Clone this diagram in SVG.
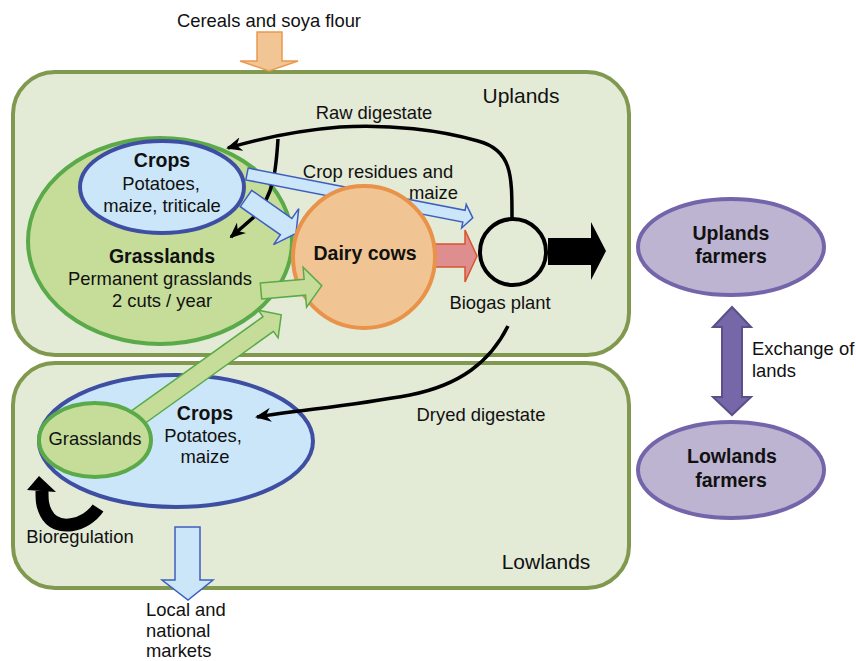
<svg xmlns="http://www.w3.org/2000/svg" width="856" height="661" viewBox="0 0 856 661">
<style>
text{font-family:"Liberation Sans",Arial,sans-serif;font-size:18.4px;fill:#111}
.b{font-weight:bold;font-size:19.5px}
.r{font-size:21px}
.m{text-anchor:middle}
.box{fill:#e3ead6;stroke:#80994f;stroke-width:4}
.gr{fill:#c6dd9a;stroke:#5aaa4a;stroke-width:4}
.cr{fill:#cbe6f8;stroke:#3e4fa3;stroke-width:4}
.pu{fill:#bdb4d2;stroke:#7465aa;stroke-width:4}
.ln{fill:none;stroke:#000;stroke-width:3.5}
.ab{fill:#cbe6f8;stroke:#3e5fbf;stroke-width:1.5}
.ag{fill:#c6dd9a;stroke:#5aaa4a;stroke-width:1.5}
</style>
<defs>
<marker id="ah" markerUnits="userSpaceOnUse" viewBox="0 0 16 14" refX="14" refY="7" markerWidth="16" markerHeight="14" orient="auto">
<path d="M0,0 L16,7 L0,14 L5,7 z" fill="#000"/>
</marker>
</defs>

<g id="uplands"><rect class="box" x="13" y="72" width="616" height="283" rx="42"/><text class="m r" x="521" y="103">Uplands</text></g>
<g id="lowlands"><rect class="box" x="13" y="363" width="616" height="225" rx="42"/><text class="m r" x="546" y="569">Lowlands</text></g>

<g id="cereals">
<text class="m" x="269" y="27">Cereals and soya flour</text>
<polygon points="257,32 282,32 282,61 298,61 269,71 240,61 257,61" fill="#f2c594" stroke="#e9994f" stroke-width="1.5"/>
</g>

<g id="grasslands-up"><ellipse class="gr" cx="160" cy="241" rx="132" ry="103"/>
<text class="m b" x="162" y="263">Grasslands</text>
<text class="m" x="160" y="285">Permanent grasslands</text>
<text class="m" x="162" y="307">2 cuts / year</text></g>

<g id="crops-up"><ellipse class="cr" cx="162" cy="187" rx="82" ry="46"/>
<text class="m b" x="162" y="167">Crops</text>
<text class="m" x="161" y="190">Potatoes,</text>
<text class="m" x="162" y="212">maize, triticale</text></g>

<g id="crops-low"><ellipse class="cr" cx="176" cy="441" rx="137" ry="66"/>
<text class="m b" x="205" y="420">Crops</text>
<text class="m" x="203" y="442">Potatoes,</text>
<text class="m" x="205" y="463">maize</text></g>

<g id="connectors">
<path class="ln" d="M512 218 C512 175 512 150 478 141 C440 130 390 124 340 127 C290 131 255 140 228 148" marker-end="url(#ah)"/>
<path class="ln" d="M278 139 C276 170 274 195 255 216 L231 237" marker-end="url(#ah)"/>
<path class="ln" d="M508 326 C490 362 460 385 410 395 C350 406 300 410 257 417" marker-end="url(#ah)"/>
<polygon class="ab" transform="translate(247,174) rotate(11)" points="0,-6 221,-6 221,-12 230,0 221,12 221,6 0,6"/>
<polygon class="ab" transform="translate(246,198.5) rotate(35)" points="0,-10 49,-10 49,-22 61,0 49,22 49,10 0,10"/>
<polygon points="428,244 465,244 465,230 477,256 465,282 465,267 428,267" fill="#de8e8f" stroke="#d9542e" stroke-width="1.5"/>
</g>

<g id="dairy-cows"><circle cx="364" cy="257" r="71" fill="#f0c593" stroke="#e8924a" stroke-width="4"/>
<text class="m b" x="365" y="260">Dairy cows</text></g>

<g id="labels">
<text class="m" x="374" y="119">Raw digestate</text>
<text class="m" x="378" y="178">Crop residues and</text>
<text x="458" y="199" text-anchor="end">maize</text>
<text class="m" x="481" y="421">Dryed digestate</text>
</g>

<g id="biogas-plant"><circle cx="513" cy="252" r="33" fill="none" stroke="#000" stroke-width="4"/>
<text class="m" x="500" y="309">Biogas plant</text>
<polygon points="548,238 591,238 591,222 606,251 591,280 591,265 548,265" fill="#000"/></g>

<g id="connectors-green">
<polygon class="ag" transform="translate(261,291) rotate(-5)" points="0,-8 44,-8 44,-20 61,0 44,20 44,8 0,8"/>
<polygon class="ag" transform="translate(130,423) rotate(-35.6)" points="0,-9 170,-9 170,-17 186,0 170,17 170,9 0,9"/>
</g>

<g id="grasslands-low"><ellipse class="gr" cx="95" cy="440" rx="56" ry="37"/>
<text class="m" x="95" y="445">Grasslands</text></g>

<g id="bioregulation">
<path d="M98 508 C86 526 56 533 46 513 C42 505 42 500 42 491" fill="none" stroke="#000" stroke-width="13"/>
<polygon points="27,490 56,492 39,476" fill="#000"/>
<text class="m" x="80" y="543">Bioregulation</text>
</g>

<g id="markets">
<polygon points="175,527 200,527 200,580 213,580 188,600 162,580 175,580" fill="#cbe6f8" stroke="#3e5fbf" stroke-width="1.5"/>
<text x="146" y="616">Local and</text>
<text x="146" y="637">national</text>
<text x="146" y="657">markets</text>
</g>

<g id="uplands-farmers"><ellipse class="pu" cx="731" cy="247" rx="93" ry="48"/>
<text class="m b" x="731" y="240">Uplands</text>
<text class="m b" x="731" y="263">farmers</text></g>

<g id="lowlands-farmers"><ellipse class="pu" cx="731" cy="470" rx="93" ry="48"/>
<text class="m b" x="732" y="463">Lowlands</text>
<text class="m b" x="731" y="487">farmers</text></g>

<g id="exchange">
<polygon points="732,307 751,327 742,327 742,397 751,397 732,415 713,397 722,397 722,327 713,327" fill="#7667a8" stroke="#5a4f88" stroke-width="2"/>
<text x="752" y="355">Exchange of</text>
<text x="752" y="377">lands</text>
</g>
</svg>
